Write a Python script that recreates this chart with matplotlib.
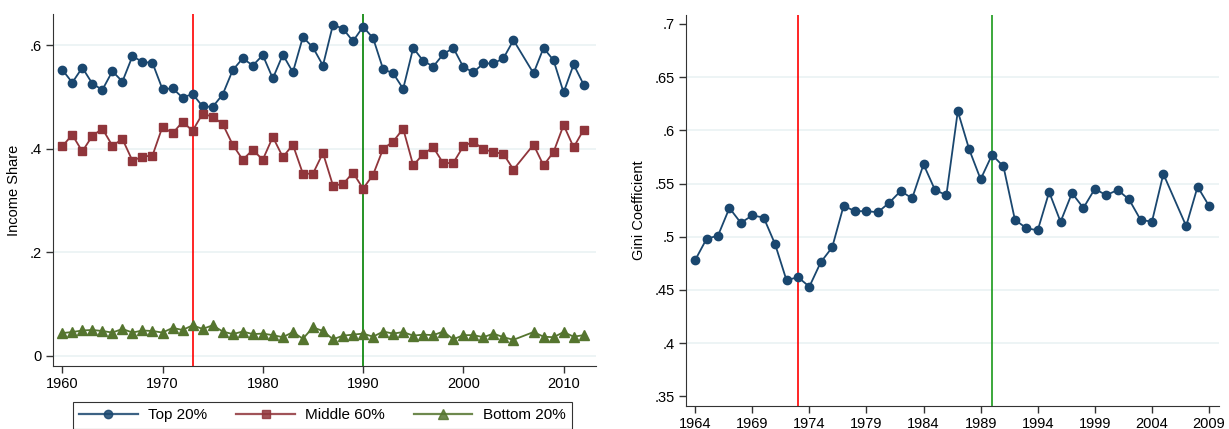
import matplotlib
matplotlib.use('Agg')
import matplotlib.pyplot as plt

plt.rcParams['font.family'] = ['Liberation Sans', 'DejaVu Sans']

# income shares, 1960-2012 (no 2006)
years = list(range(1960, 2006)) + list(range(2007, 2013))
top20 = [0.553, 0.528, 0.557, 0.526, 0.514, 0.550, 0.530, 0.579, 0.568, 0.566,
         0.515, 0.517, 0.499, 0.506, 0.482, 0.481, 0.505, 0.552, 0.575, 0.561,
         0.581, 0.536, 0.582, 0.548, 0.616, 0.596, 0.561, 0.640, 0.632, 0.608,
         0.636, 0.614, 0.554, 0.546, 0.516, 0.595, 0.570, 0.559, 0.583, 0.595,
         0.558, 0.548, 0.565, 0.565, 0.575, 0.610,
         0.546, 0.595, 0.571, 0.509, 0.563, 0.524]
mid60 = [0.405, 0.427, 0.395, 0.425, 0.439, 0.406, 0.419, 0.377, 0.385, 0.387,
         0.443, 0.430, 0.452, 0.435, 0.468, 0.462, 0.448, 0.408, 0.379, 0.398,
         0.379, 0.423, 0.384, 0.408, 0.352, 0.352, 0.392, 0.329, 0.332, 0.354,
         0.323, 0.350, 0.400, 0.414, 0.439, 0.368, 0.390, 0.403, 0.372, 0.373,
         0.405, 0.414, 0.399, 0.394, 0.390, 0.360,
         0.408, 0.368, 0.394, 0.446, 0.403, 0.437]
bot20 = [0.044, 0.046, 0.049, 0.050, 0.048, 0.045, 0.052, 0.045, 0.049, 0.048,
         0.045, 0.054, 0.050, 0.059, 0.052, 0.059, 0.047, 0.042, 0.047, 0.042,
         0.043, 0.040, 0.036, 0.046, 0.033, 0.055, 0.048, 0.032, 0.039, 0.041,
         0.043, 0.037, 0.047, 0.043, 0.046, 0.039, 0.041, 0.040, 0.047, 0.032,
         0.040, 0.040, 0.036, 0.043, 0.036, 0.031,
         0.046, 0.037, 0.036, 0.046, 0.037, 0.040]

# gini, 1964-2009 (no 2006)
gyears = list(range(1964, 2006)) + list(range(2007, 2010))
gini = [0.478, 0.498, 0.501, 0.527, 0.513, 0.520, 0.518, 0.493, 0.459, 0.462,
        0.453, 0.476, 0.490, 0.529, 0.524, 0.524, 0.523, 0.532, 0.543, 0.536,
        0.568, 0.544, 0.539, 0.618, 0.582, 0.554, 0.577, 0.566, 0.516, 0.508,
        0.506, 0.542, 0.514, 0.541, 0.527, 0.545, 0.539, 0.544, 0.535, 0.516,
        0.514, 0.559, 0.510, 0.547, 0.529]

navy = '#1a476f'
maroon = '#90353b'
fgreen = '#55752f'
gridc = '#eaf2f3'
fs = 10.5

fig = plt.figure(figsize=(12.29, 4.29), dpi=100)

# left panel
ax1 = fig.add_axes([0.0429, 0.1476, 0.4418, 0.8191])
for v in [0, 0.2, 0.4, 0.6]:
    ax1.axhline(v, color=gridc, lw=1.2, zorder=0)
ax1.axvline(1973, color='red', lw=1.2, zorder=1)
ax1.axvline(1990, color='#008000', lw=1.2, zorder=1)
ax1.plot(years, top20, color=navy, marker='o', ms=6, lw=1.3, label='Top 20%', zorder=3)
ax1.plot(years, mid60, color=maroon, marker='s', ms=6, lw=1.3, label='Middle 60%', zorder=3)
ax1.plot(years, bot20, color=fgreen, marker='^', ms=6.5, lw=1.3, label='Bottom 20%', zorder=3)
ax1.set_xlim(1959.05, 2013.2)
ax1.set_ylim(-0.019, 0.66)
ax1.set_xticks([1960, 1970, 1980, 1990, 2000, 2010])
ax1.set_yticks([0, 0.2, 0.4, 0.6])
ax1.set_yticklabels(['0', '.2', '.4', '.6'])
ax1.set_ylabel('Income Share', fontsize=fs, labelpad=6)

# right panel
ax2 = fig.add_axes([0.5582, 0.0543, 0.4339, 0.9114])
for v in [0.4, 0.45, 0.5, 0.55, 0.6, 0.65]:
    ax2.axhline(v, color=gridc, lw=1.2, zorder=0)
ax2.axvline(1973, color='red', lw=1.2, zorder=1)
ax2.axvline(1990, color='#1a9a1a', lw=1.2, zorder=1)
ax2.plot(gyears, gini, color=navy, marker='o', ms=6, lw=1.3, zorder=3)
ax2.set_xlim(1963.2, 2009.9)
ax2.set_ylim(0.3411, 0.7087)
ax2.set_xticks(list(range(1964, 2010, 5)))
ax2.set_yticks([0.35, 0.4, 0.45, 0.5, 0.55, 0.6, 0.65, 0.7])
ax2.set_yticklabels(['.35', '.4', '.45', '.5', '.55', '.6', '.65', '.7'])
ax2.set_ylabel('Gini Coefficient', fontsize=fs, labelpad=6)

for ax in (ax1, ax2):
    ax.spines['top'].set_visible(False)
    ax.spines['right'].set_visible(False)
    ax.spines['left'].set_color('#333333')
    ax.spines['bottom'].set_color('#333333')
    ax.tick_params(direction='out', length=5, width=1, color='#333333',
                   labelsize=fs, pad=3)

h, l = ax1.get_legend_handles_labels()
leg = fig.legend(h, l, loc='upper left',
                 bbox_to_anchor=(72.7 / 1229, 1 - 401.7 / 429),
                 borderaxespad=0, ncol=3, fontsize=11, handlelength=3.82,
                 numpoints=1, fancybox=False, edgecolor='black',
                 borderpad=0.43, handletextpad=0.69, columnspacing=1.9)
leg.get_frame().set_linewidth(0.8)
for line in leg.get_lines():
    line.set_linewidth(1.6)
    line.set_alpha(0.85)

fig.savefig('out.png', dpi=100)
